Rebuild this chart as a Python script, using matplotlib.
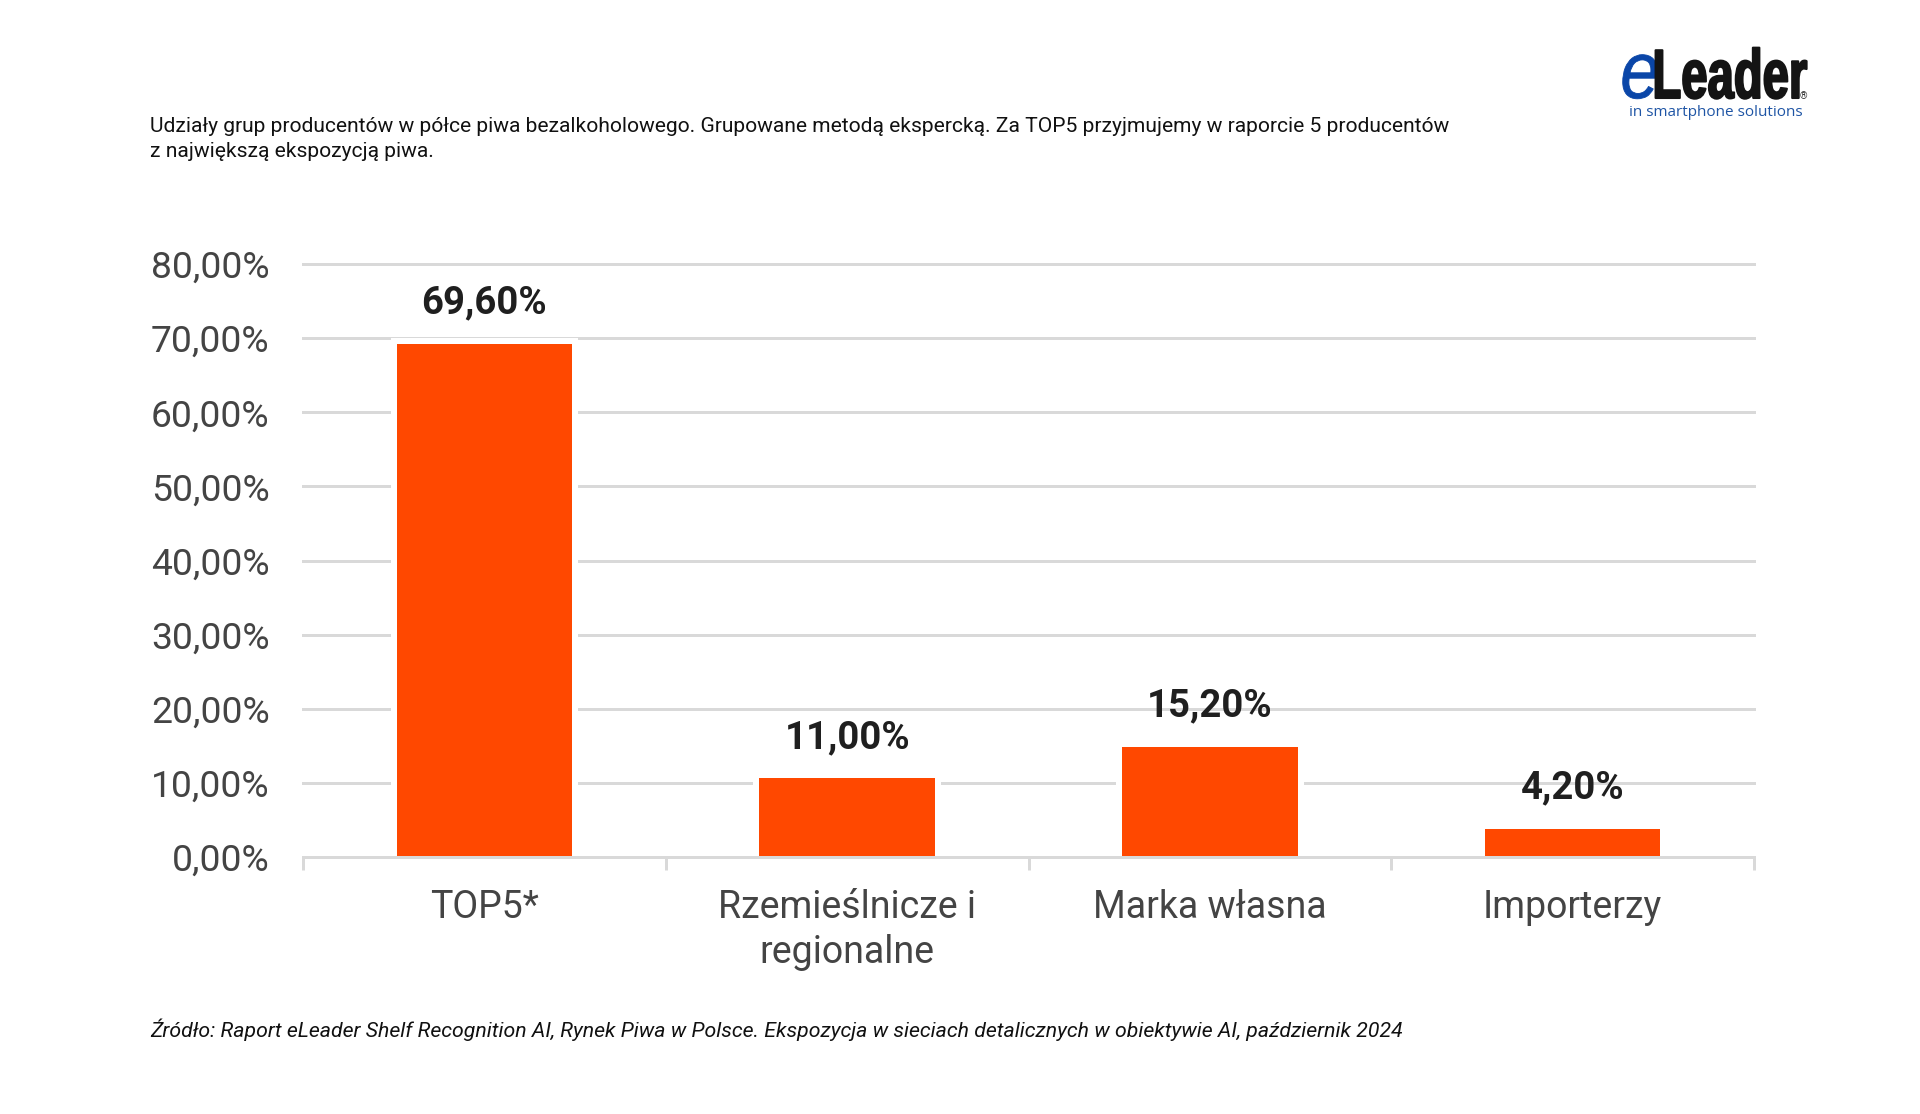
import matplotlib
matplotlib.use("Agg")
import matplotlib.pyplot as plt
from matplotlib.patheffects import AbstractPathEffect
from matplotlib.transforms import Affine2D

categories = ["TOP5*", "Rzemieślnicze i\nregionalne", "Marka własna", "Importerzy"]
values = [69.6, 11.0, 15.2, 4.2]
y_ticks = [0, 10, 20, 30, 40, 50, 60, 70, 80]
title = ("Udziały grup producentów w półce piwa bezalkoholowego. Grupowane metodą ekspercką. "
         "Za TOP5 przyjmujemy w raporcie 5 producentów\nz największą ekspozycją piwa.")
source = ("Źródło: Raport eLeader Shelf Recognition AI, Rynek Piwa w Polsce. Ekspozycja w sieciach "
          "detalicznych w obiektywie AI, październik 2024")


class HStretch(AbstractPathEffect):
    """Draw text narrower around a pixel x, with an optional stroke to make it heavier."""

    def __init__(self, sx, x0, stroke=0.0):
        super().__init__()
        self.sx, self.x0, self.stroke = sx, x0, stroke

    def draw_path(self, renderer, gc, tpath, affine, rgbFace):
        t = affine + Affine2D().translate(-self.x0, 0).scale(self.sx, 1).translate(self.x0, 0)
        gc0 = renderer.new_gc()
        gc0.copy_properties(gc)
        gc0.set_foreground(rgbFace)
        gc0.set_linewidth(self.stroke)
        renderer.draw_path(gc0, tpath, t, rgbFace)
        gc0.restore()


W, H = 1920, 1114
PX = 72 / 100
plt.rcParams["font.family"] = ["Roboto", "DejaVu Sans"]
fig = plt.figure(figsize=(W / 100, H / 100), dpi=100, facecolor="white")
ax = fig.add_axes([303 / W, 1 - 857 / H, (1754 - 303) / W, (857 - 264) / H])

GRID = "#d9d9d9"
TXT = "#444444"
BASE = -2  # bars start under the axis so their white outline is clipped there
xs = list(range(len(categories)))
ax.bar(xs, [v - BASE for v in values], bottom=BASE, width=0.5, color="#ff4800",
       edgecolor="white", linewidth=6 * PX, zorder=3)
ax.set_xlim(-0.5, 3.5)
ax.set_ylim(0, 80)
ax.set_yticks(y_ticks)
ax.set_yticklabels([f"{v},00%" for v in y_ticks], fontsize=26.8, color=TXT)
ax.tick_params(axis="y", length=0, pad=24)
ax.yaxis.grid(True, color=GRID, linewidth=3 * PX, zorder=1)
for g in ax.yaxis.get_gridlines():
    g.set_clip_on(False)
ax.set_axisbelow(True)
ax.set_xticks(xs)
ax.set_xticklabels(categories, fontsize=27, color=TXT, linespacing=1.27)
ax.set_xticks([x - 0.5 for x in xs] + [xs[-1] + 0.5], minor=True)
ax.tick_params(axis="x", which="major", length=0, pad=23)
ax.tick_params(axis="x", which="minor", length=9, width=3 * PX, color=GRID)
for s in ("top", "left", "right"):
    ax.spines[s].set_visible(False)
ax.spines["bottom"].set_color(GRID)
ax.spines["bottom"].set_linewidth(3 * PX)
ax.spines["bottom"].set_zorder(5)

for x, v in zip(xs, values):
    ax.annotate(f"{v:.2f}".replace(".", ",") + "%", (x, v), xytext=(0, 27.4), textcoords="offset points",
                ha="center", va="center", fontsize=27.5, fontweight="bold", color="#1f1f1f")

fig.text(150 / W, 1 - 139 / H, title, fontsize=15.15, color="#111111", va="center", ha="left",
         linespacing=1.45)
fig.text(150 / W, 1 - 1030 / H, source, fontsize=15.35, style="italic", color="#111111", va="center", ha="left")

# logo
logo_e = fig.text(1640 / W, 1 - 98 / H, "e", fontsize=58, style="italic", color="#0a46a8",
                  family=["Liberation Sans", "DejaVu Sans"], va="baseline", ha="center")
logo_e.set_path_effects([HStretch(0.88, 1640, 0.6)])
logo_l = fig.text(1730 / W, 1 - 98 / H, "Leader", fontsize=50, fontweight="bold", color="#141414",
                  family=["Liberation Sans", "DejaVu Sans"], va="baseline", ha="center")
logo_l.set_path_effects([HStretch(0.68, 1730, 1.5)])
fig.text(1716 / W, 1 - 112 / H, "in smartphone solutions", fontsize=11, color="#1f55a5",
         va="center", ha="center", family=["Open Sans", "DejaVu Sans"])
fig.text(1803 / W, 1 - 96 / H, "®", fontsize=7, color="#333333", va="center", ha="center")

fig.savefig("out.png", dpi=100, facecolor="white")
